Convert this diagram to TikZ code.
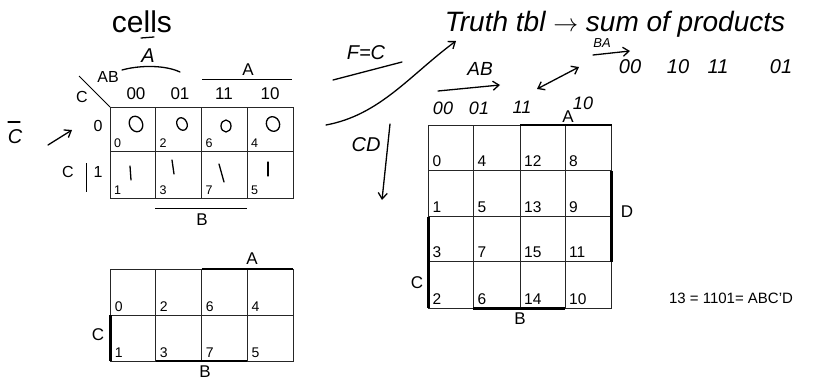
\documentclass[tikz,border=0pt]{standalone}
\usepackage{fontspec}
\setmainfont{Liberation Sans}
\usetikzlibrary{arrows.meta}
\tikzset{
  grid/.style={line width=0.9pt, draw=black!85},
  thick bar/.style={line width=2.6pt},
  hw/.style={line width=1.3pt, line cap=round, line join=round},
  hwarrow/.style={hw, -{Straight Barb[length=6pt,width=9pt]}},
  hwtext/.style={font=\fontsize{#1}{#1}\selectfont\itshape, inner sep=0pt},
  lbl/.style={font=\fontsize{#1}{#1}\selectfont, inner sep=0pt},
  cnum/.style={font=\fontsize{#1}{#1}\selectfont, inner sep=0pt, anchor=base west},
}
\begin{document}
\begin{tikzpicture}[x=1pt,y=-1pt]
\useasboundingbox (0,0) rectangle (827,380);
% title fragment
\node[lbl=30] (cells) at (142,22) {cells};

% ---------- top 3-variable map ----------
\draw[grid] (110,107) rectangle (293,198);
\draw[grid] (110,151) -- (293,151);
\foreach \x in {155.5,201.5,247} \draw[grid] (\x,107) -- (\x,198);
\draw[line width=0.9pt] (79,76) -- (110,107);
\node[lbl=16] (ab) at (108,77) {AB};
\node[lbl=16] (cc) at (82,97) {C};
\node[lbl=17] (h00) at (136,94) {00};
\node[lbl=17] (h01) at (180,94) {01};
\node[lbl=17] (h11) at (224,94) {11};
\node[lbl=17] (h10) at (270,94) {10};
\draw[line width=0.9pt] (202,79) -- (292,79);
\node[lbl=17] (topA) at (248,70) {A};
\node[lbl=16] (r0) at (98,126) {0};
\node[lbl=16] (r1) at (98,172) {1};
\node[lbl=16] (rC) at (68,172) {C};
\draw[line width=0.9pt] (86,163) -- (86,192);
\draw[line width=0.9pt] (155,208) -- (247,208);
\node[lbl=17] (topB) at (202,220) {B};
\foreach \x/\n in {110/0,155.5/2,201.5/6,247/4} \node[cnum=12.5] at (\x+4,147) {\n};
\foreach \x/\n in {110/1,155.5/3,201.5/7,247/5} \node[cnum=12.5] at (\x+4,194) {\n};
% handwritten 0s and 1s
\draw[hw] (136,124) ellipse [x radius=6.5, y radius=8, rotate=25];
\draw[hw] (182,124) ellipse [x radius=5, y radius=6.5, rotate=25];
\draw[hw] (226,126) ellipse [x radius=5, y radius=6];
\draw[hw] (273,124) ellipse [x radius=6.5, y radius=7.5, rotate=25];
\draw[hw] (130,166) -- (131,180);
\draw[hw] (172,160) -- (174,174);
\draw[hw] (219,164) -- (224,182);
\draw[hw] (268,162) -- (268,176);
% A-bar annotation
\node[hwtext=20] (abar) at (148,56) {A};
\draw[hw] (141,38) -- (154,37);
\draw[hw] (122,70) .. controls (140,65) and (165,65) .. (180,72);
% C-bar arrow
\node[hwtext=20] (cbar) at (15,137) {C};
\draw[hw] (8,122) -- (20,122);
\coordinate (cbarEnd) at (72,130);
\draw[hwarrow] (48,145) -- (cbarEnd);

% ---------- bottom 3-variable map ----------
\draw[grid] (110.7,269) rectangle (293,361);
\draw[grid] (110.7,315) -- (293,315);
\foreach \x in {155.7,201.7,247.3} \draw[grid] (\x,269) -- (\x,361);
\draw[thick bar] (201.7,269) -- (293,269);
\draw[thick bar] (110.7,315) -- (110.7,361);
\draw[thick bar] (155.7,361) -- (247.3,361);
\node[lbl=17] (botA) at (252,259) {A};
\node[lbl=17] (botC) at (98,335) {C};
\node[lbl=17] (botB) at (205,372) {B};
\foreach \x/\n in {110.7/0,155.7/2,201.7/6,247.3/4} \node[cnum=14] at (\x+4,311) {\n};
\foreach \x/\n in {110.7/1,155.7/3,201.7/7,247.3/5} \node[cnum=14] at (\x+4,357) {\n};

% ---------- 4-variable map ----------
\draw[grid] (428.3,125) rectangle (611.7,308.3);
\foreach \y in {170.7,216.7,261.7} \draw[grid] (428.3,\y) -- (611.7,\y);
\foreach \x in {473.3,520,565} \draw[grid] (\x,125) -- (\x,308.3);
\draw[thick bar] (520,125) -- (611.7,125);
\draw[thick bar] (611.7,170.7) -- (611.7,261.7);
\draw[thick bar] (428.3,216.7) -- (428.3,308.3);
\draw[thick bar] (473.3,308.3) -- (565,308.3);
\node[lbl=17] (bigA) at (568,117) {A};
\node[lbl=17] (bigD) at (627,212) {D};
\node[lbl=17] (bigC) at (417,283) {C};
\node[lbl=17] (bigB) at (520,319) {B};
\foreach \x/\a/\b/\c/\d in {428.3/0/1/3/2, 473.3/4/5/7/6, 520/12/13/15/14, 565/8/9/11/10}{
  \node[cnum=15.5] at (\x+4,166.5) {\a};
  \node[cnum=15.5] at (\x+4,212.5) {\b};
  \node[cnum=15.5] at (\x+4,257.5) {\c};
  \node[cnum=15.5] at (\x+4,304) {\d};
}
\node[lbl=15] (eq) at (731,298) {13 = 1101= ABC’D};

% ---------- handwritten notes ----------
\node[hwtext=20] (fc) at (366,53) {F=C};
\draw[hw] (333,80) -- (402,62);
\coordinate (curveEnd) at (456,41);
\draw[hwarrow] (326,125) .. controls (380,115) and (410,75) .. (curveEnd);
\node[hwtext=28] (truth) at (615,24) {Truth tbl $\rightarrow$ sum of products};
\node[hwtext=19] (abh) at (480,69) {AB};
\coordinate (abArrowEnd) at (500,85);
\draw[hwarrow] (438,91) -- (abArrowEnd);
\node[hwtext=18] (n00) at (443,108) {00};
\node[hwtext=18] (n01) at (479,108) {01};
\node[hwtext=18] (n11) at (522,107) {11};
\node[hwtext=18] (n10) at (583,103) {10};
\coordinate (dblA) at (537,89);
\coordinate (dblB) at (579,67);
\draw[hw, {Straight Barb[length=6pt,width=9pt]}-{Straight Barb[length=6pt,width=9pt]}] (dblA) -- (dblB);
\node[hwtext=13] (bah) at (602,43) {BA};
\coordinate (baEnd) at (630,51);
\draw[hwarrow] (593,55) -- (baEnd);
\node[hwtext=20] (s00) at (630,67) {00};
\node[hwtext=20] (s10) at (678,67) {10};
\node[hwtext=20] (s11) at (718,67) {11};
\node[hwtext=20] (s01) at (781,67) {01};
\node[hwtext=20] (cd) at (366,145) {CD};
\coordinate (cdEnd) at (382,200);
\draw[hwarrow] (390,124) -- (cdEnd);
\end{tikzpicture}
\end{document}
